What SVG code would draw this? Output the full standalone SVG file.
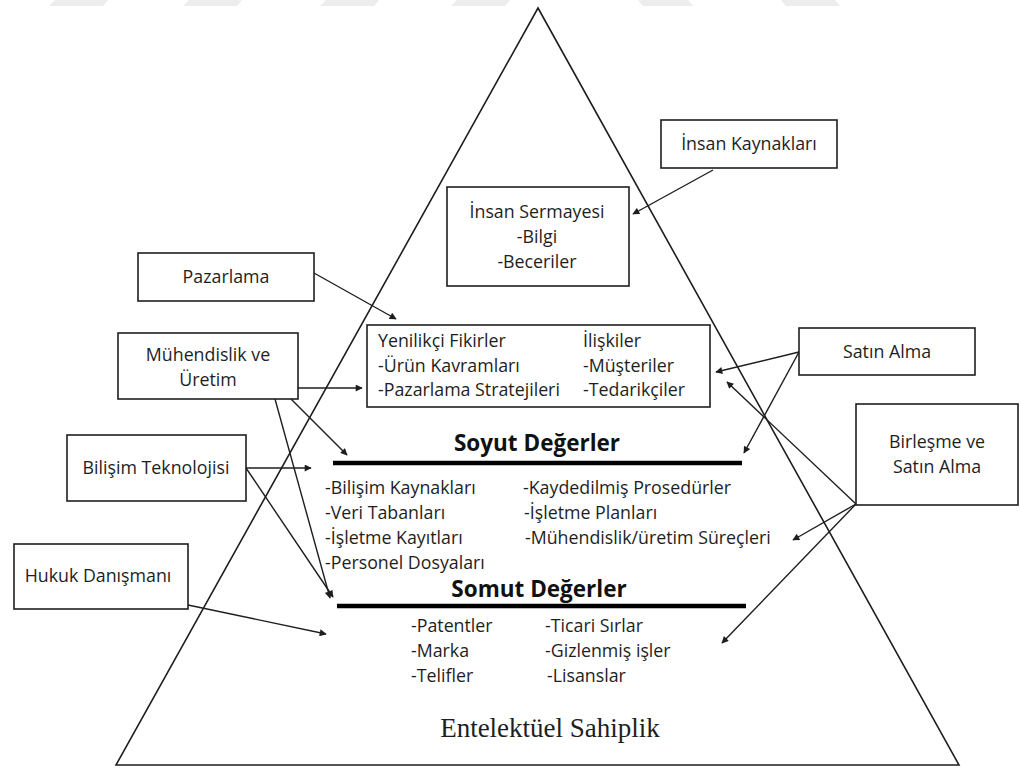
<svg xmlns="http://www.w3.org/2000/svg" width="1020" height="768" viewBox="0 0 1020 768">
  <style>
    .box { fill: #ffffff; stroke: #1e1e1e; stroke-width: 1.6; }
    .t { font-family: "Open Sans", "Liberation Sans", sans-serif; font-size: 17.8px; fill: #1e1e1e; }
    .c { text-anchor: middle; }
    .title { font-family: "Open Sans", "Liberation Sans", sans-serif; font-size: 22.5px; font-weight: bold; fill: #111111; text-anchor: middle; }
    .serif { font-family: "Liberation Serif", "Times New Roman", serif; font-size: 27px; fill: #1e1e1e; text-anchor: middle; }
    .edge { fill: none; stroke: #1e1e1e; stroke-width: 1.4; marker-end: url(#arrow); }
    .bar { stroke: #000000; stroke-width: 4.5; }
    .band { fill: #ededed; }
  </style>
  <defs>
    <marker id="arrow" viewBox="0 0 10 10" refX="9" refY="5" markerWidth="9" markerHeight="7" markerUnits="userSpaceOnUse" orient="auto">
      <path d="M0,0 L10,5 L0,10 z" fill="#1e1e1e"/>
    </marker>
  </defs>

  <rect width="1020" height="768" fill="#ffffff"/>

  <!-- light bands along the top edge -->
  <g id="top-bands">
    <polygon class="band" points="55,0 108,0 103,6 49,6"/>
    <polygon class="band" points="189,0 242,0 237,6 183,6"/>
    <polygon class="band" points="326,0 379,0 374,6 320,6"/>
    <polygon class="band" points="457,0 510,0 505,6 451,6"/>
    <polygon class="band" points="638,0 688,0 693,6 643,6"/>
    <polygon class="band" points="781,0 835,0 840,6 786,6"/>
  </g>

  <!-- pyramid outline -->
  <g id="pyramid">
    <polygon points="538,8 959,765 116,765" fill="none" stroke="#1e1e1e" stroke-width="1.6"/>
  </g>

  <!-- connectors -->
  <g id="connectors">
    <line class="edge" x1="713" y1="170" x2="633" y2="214"/>
    <line class="edge" x1="314" y1="273" x2="396" y2="319"/>
    <line class="edge" x1="298" y1="388" x2="362" y2="388"/>
    <line class="edge" x1="291" y1="399" x2="347" y2="455"/>
    <line class="edge" x1="275" y1="399" x2="330" y2="598"/>
    <line class="edge" x1="246" y1="468" x2="311" y2="468"/>
    <line class="edge" x1="246" y1="468" x2="333" y2="597"/>
    <line class="edge" x1="188" y1="605" x2="326" y2="634"/>
    <line class="edge" x1="799" y1="352" x2="716" y2="372"/>
    <line class="edge" x1="799" y1="352" x2="744" y2="453"/>
    <line class="edge" x1="856" y1="504" x2="727" y2="382"/>
    <line class="edge" x1="856" y1="504" x2="793" y2="540"/>
    <line class="edge" x1="856" y1="504" x2="722" y2="643"/>
  </g>

  <!-- apex block -->
  <g id="insan-sermayesi">
    <rect class="box" x="447" y="187" width="182" height="99"/>
    <text class="t c" x="537" y="218">İnsan Sermayesi</text>
    <text class="t c" x="537" y="243">-Bilgi</text>
    <text class="t c" x="537" y="268">-Beceriler</text>
  </g>

  <g id="insan-kaynaklari">
    <rect class="box" x="661" y="120" width="176" height="48"/>
    <text class="t c" x="749" y="150">İnsan Kaynakları</text>
  </g>

  <g id="pazarlama">
    <rect class="box" x="138" y="253" width="176" height="48"/>
    <text class="t c" x="226" y="283">Pazarlama</text>
  </g>

  <g id="muhendislik">
    <rect class="box" x="118" y="333" width="180" height="66"/>
    <text class="t c" x="208" y="361">Mühendislik ve</text>
    <text class="t c" x="208" y="386">Üretim</text>
  </g>

  <g id="yenilikci">
    <rect class="box" x="367" y="325" width="343" height="82"/>
    <text class="t" x="378" y="347">Yenilikçi Fikirler</text>
    <text class="t" x="378" y="372">-Ürün Kavramları</text>
    <text class="t" x="378" y="396">-Pazarlama Stratejileri</text>
    <text class="t" x="583" y="347">İlişkiler</text>
    <text class="t" x="583" y="372">-Müşteriler</text>
    <text class="t" x="583" y="396">-Tedarikçiler</text>
  </g>

  <g id="satin-alma">
    <rect class="box" x="799" y="328" width="176" height="47"/>
    <text class="t c" x="887" y="358">Satın Alma</text>
  </g>

  <g id="birlesme">
    <rect class="box" x="856" y="404" width="162" height="101"/>
    <text class="t c" x="937" y="448">Birleşme ve</text>
    <text class="t c" x="937" y="473">Satın Alma</text>
  </g>

  <g id="bilisim">
    <rect class="box" x="67" y="435" width="179" height="66"/>
    <text class="t c" x="156" y="474">Bilişim Teknolojisi</text>
  </g>

  <g id="hukuk">
    <rect class="box" x="14" y="544" width="174" height="65"/>
    <text class="t c" x="98" y="582">Hukuk Danışmanı</text>
  </g>

  <!-- intangible assets tier -->
  <g id="soyut">
    <text class="title" x="537" y="451">Soyut Değerler</text>
    <line class="bar" x1="333" y1="463" x2="742" y2="463"/>
    <text class="t" x="325" y="494">-Bilişim Kaynakları</text>
    <text class="t" x="325" y="519">-Veri Tabanları</text>
    <text class="t" x="325" y="544">-İşletme Kayıtları</text>
    <text class="t" x="325" y="569">-Personel Dosyaları</text>
    <text class="t" x="523" y="494">-Kaydedilmiş Prosedürler</text>
    <text class="t" x="524" y="519">-İşletme Planları</text>
    <text class="t" x="525" y="544">-Mühendislik/üretim Süreçleri</text>
  </g>

  <!-- tangible assets tier -->
  <g id="somut">
    <text class="title" x="539" y="597">Somut Değerler</text>
    <line class="bar" x1="337" y1="606" x2="746" y2="606"/>
    <text class="t" x="411" y="632">-Patentler</text>
    <text class="t" x="411" y="657">-Marka</text>
    <text class="t" x="411" y="682">-Telifler</text>
    <text class="t" x="545" y="632">-Ticari Sırlar</text>
    <text class="t" x="545" y="657">-Gizlenmiş işler</text>
    <text class="t" x="547" y="682">-Lisanslar</text>
  </g>

  <g id="base-label">
    <text class="serif" x="550" y="737">Entelektüel Sahiplik</text>
  </g>
</svg>
